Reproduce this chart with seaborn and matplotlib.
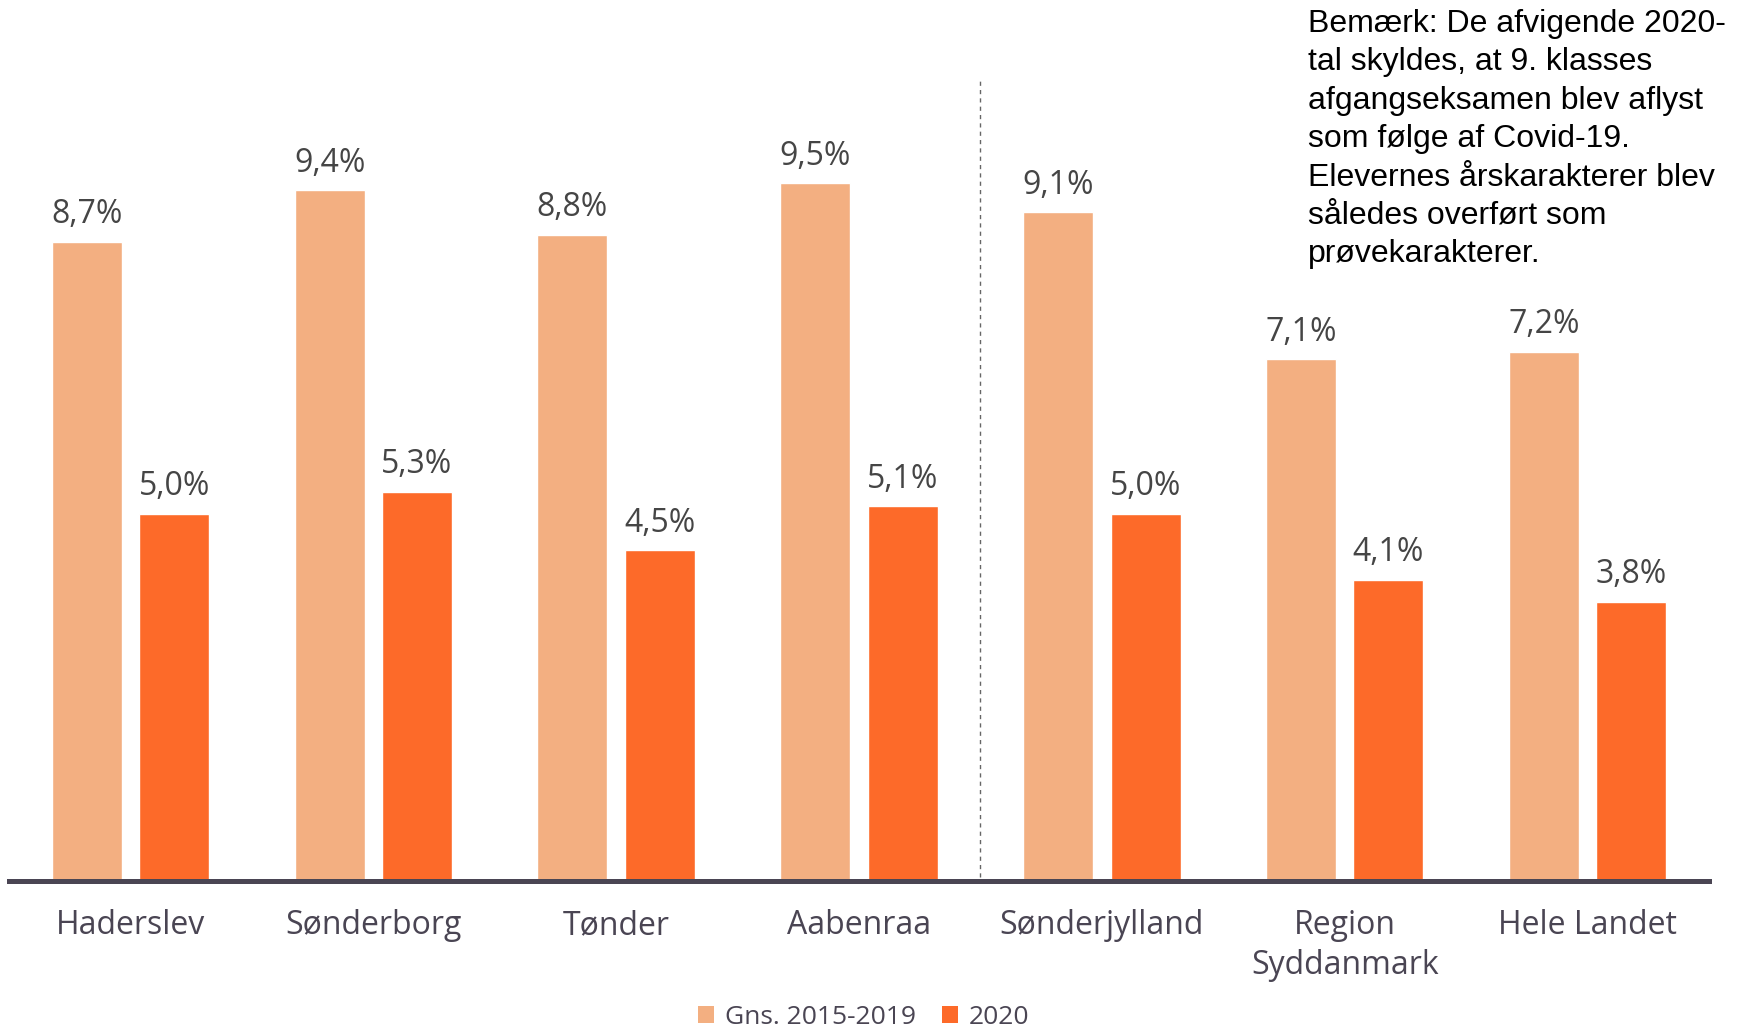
import numpy as np
import pandas as pd
import matplotlib
matplotlib.use("Agg")
import matplotlib.pyplot as plt
from matplotlib.patches import Patch
import seaborn as sns

# data
regions = ["Haderslev", "Sønderborg", "Tønder", "Aabenraa", "Sønderjylland",
           "Region\nSyddanmark", "Hele Landet"]
avg_2015_2019 = [8.7, 9.4, 8.8, 9.5, 9.1, 7.1, 7.2]
year_2020 = [5.0, 5.3, 4.5, 5.1, 5.0, 4.1, 3.8]
series_names = ["Gns. 2015-2019", "2020"]
colors = ["#F3AF81", "#FD6A29"]

note = ("Bemærk: De afvigende 2020-\ntal skyldes, at 9. klasses\n"
        "afgangseksamen blev aflyst\nsom følge af Covid-19.\n"
        "Elevernes årskarakterer blev\nsåledes overført som\nprøvekarakterer.")

df = pd.DataFrame({
    "region": regions * 2,
    "serie": [series_names[0]] * len(regions) + [series_names[1]] * len(regions),
    "value": avg_2015_2019 + year_2020,
})

sns.set_theme(style="white")
plt.rcParams["font.family"] = ["Open Sans", "DejaVu Sans"]

fig = plt.figure(figsize=(17.38, 10.33), dpi=100)
ax = fig.add_axes([9 / 1738, 152 / 1033, 1700 / 1738, 800 / 1033])

sns.barplot(data=df, x="region", y="value", hue="serie", order=regions,
            hue_order=series_names, palette=colors, width=0.72, gap=0.2,
            saturation=1, ax=ax, legend=False)

ax.set_xlim(-0.5, len(regions) - 0.5)
ax.set_ylim(0, 10.89)
ax.set_xlabel("")
ax.set_ylabel("")
ax.set_yticks([])
for s in ["top", "right", "left"]:
    ax.spines[s].set_visible(False)
ax.spines["bottom"].set_color("#4A4553")
ax.spines["bottom"].set_linewidth(3.6)

ax.tick_params(axis="x", length=0, pad=20)
ax.set_xticks(range(len(regions)))
ax.set_xticklabels(regions, fontsize=23, color="#4A4553", linespacing=1.3)

# value labels
for cont in ax.containers:
    for bar in cont:
        h = bar.get_height()
        ax.annotate(f"{h:.1f}%".replace(".", ","),
                    (bar.get_x() + bar.get_width() / 2, h),
                    xytext=(0, 19.5), textcoords="offset points",
                    ha="center", va="center", fontsize=23,
                    color="#454545")

# separator between municipalities and larger regions
ax.axvline(3.5, ymin=0.005, ymax=1, color="#666666", lw=1, ls=(0, (3, 3)))

# legend
handles = [Patch(facecolor=c, edgecolor="none") for c in colors]
fig.legend(handles, series_names, loc="center", bbox_to_anchor=(0.497, 0.015),
           ncol=2, frameon=False, handlelength=0.6, handleheight=0.6,
           handletextpad=0.4, columnspacing=1.0, borderpad=0.1,
           labelcolor="#4A4553", prop={"size": 19})

fig.text(1308 / 1738, 1 - 9 / 1033, note, ha="left", va="top", fontsize=23,
         family=["Liberation Sans", "DejaVu Sans"], color="black",
         linespacing=1.365)

fig.savefig("out.png", dpi=100)
